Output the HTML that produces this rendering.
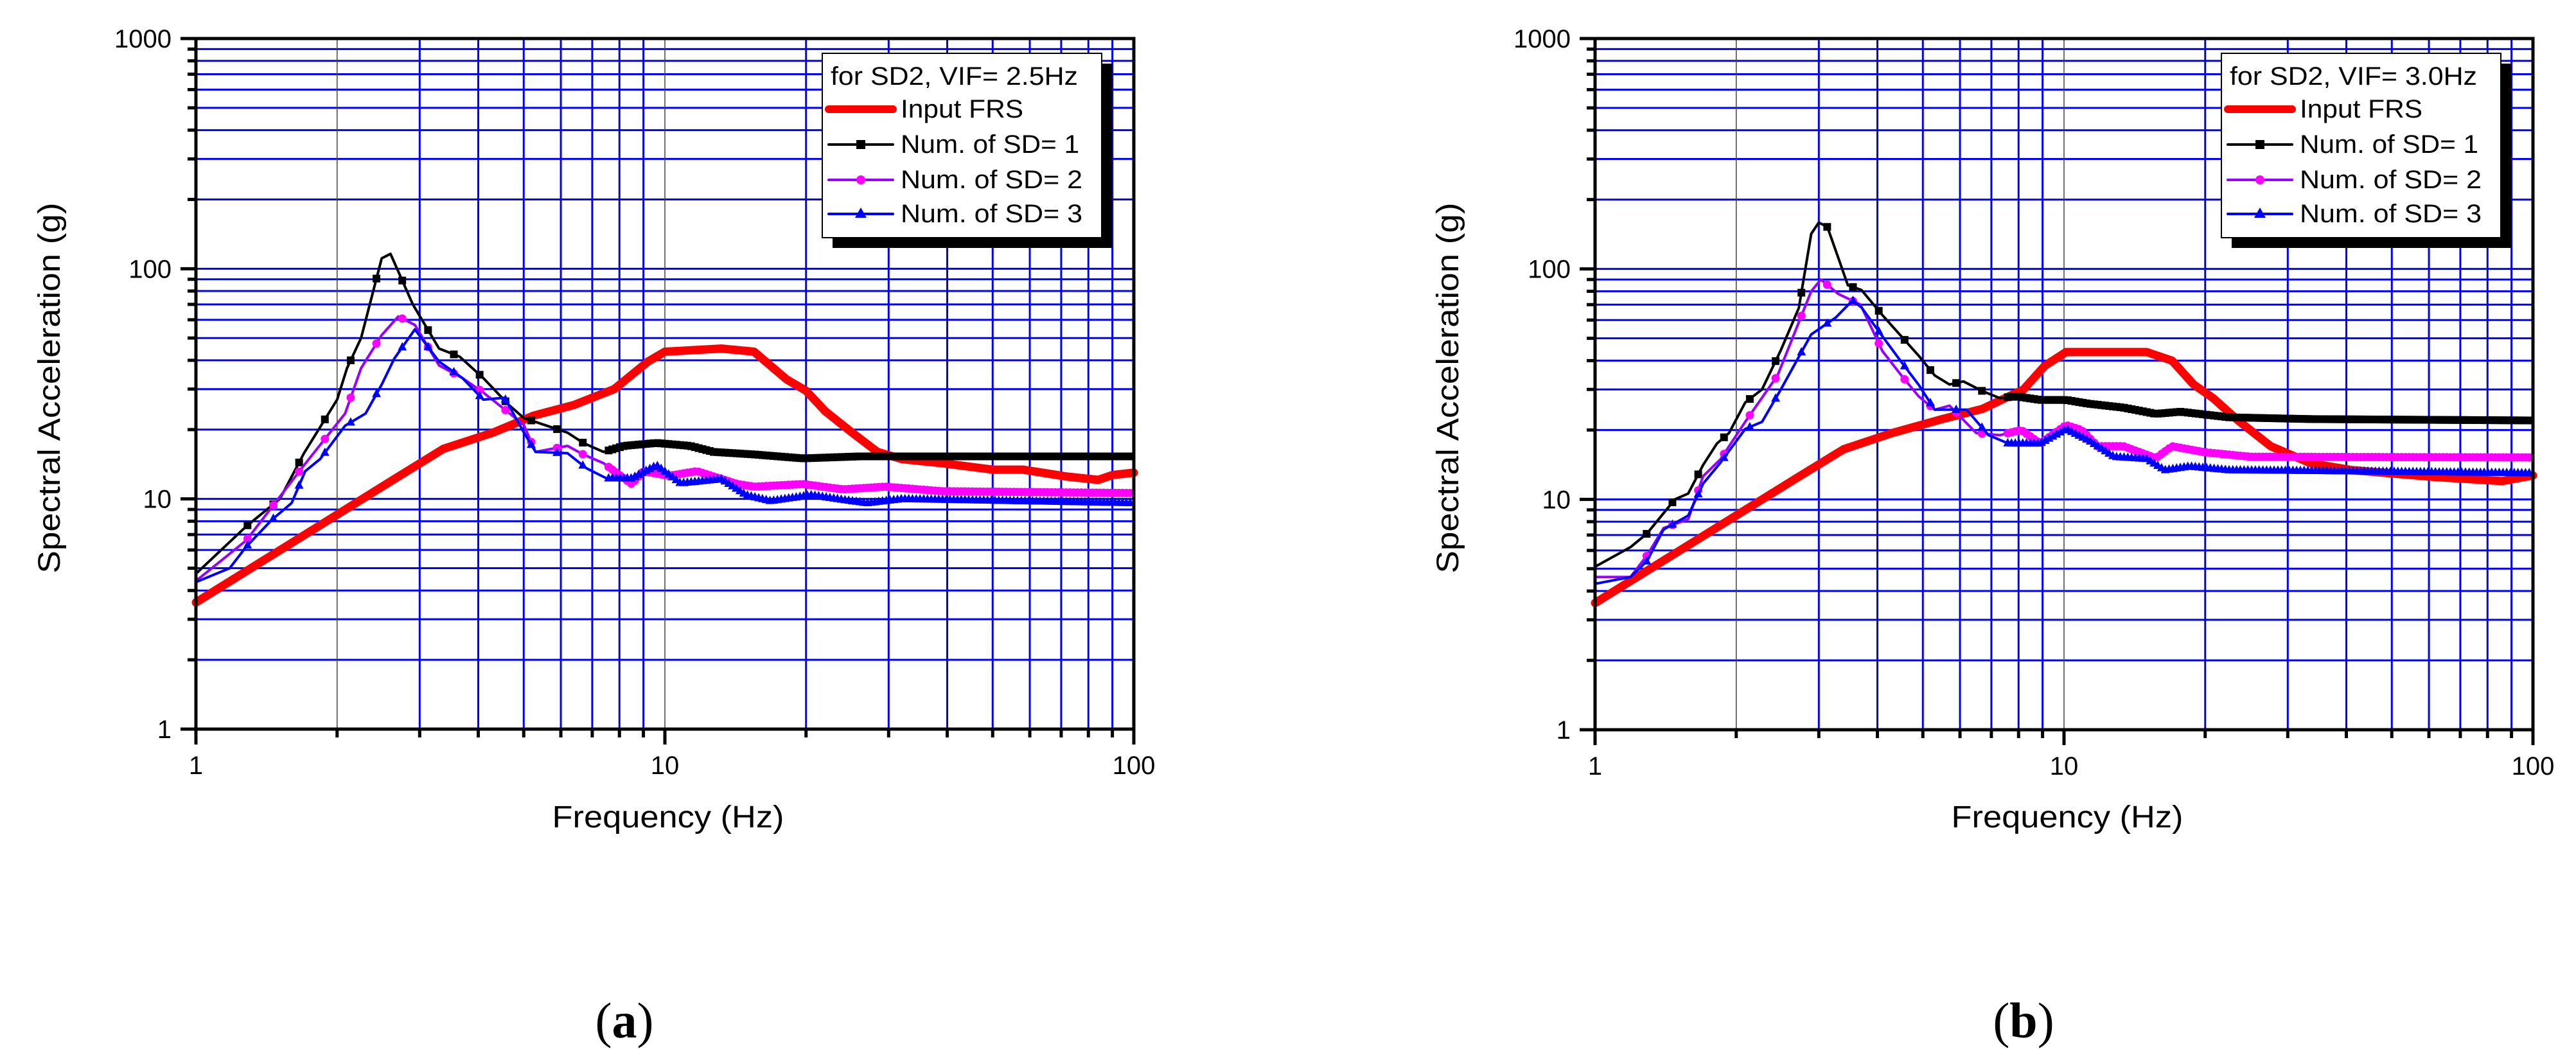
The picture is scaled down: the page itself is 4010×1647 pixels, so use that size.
<!DOCTYPE html>
<html><head><meta charset="utf-8"><style>
html,body{margin:0;padding:0;background:#fff;}
svg{display:block;font-family:"Liberation Sans Narrow","Liberation Sans",sans-serif;}
</style></head><body>
<svg id="fig" width="4010" height="1647" viewBox="0 0 4010 1647" xmlns="http://www.w3.org/2000/svg"></svg>
<script>
// Panel (a) data: [frequency Hz, spectral acceleration g]
const aInput=[[1,3.55],[2.65,12.2],[3.37,16.5],[4.3,19.4],[5.25,23],[6.4,25.6],[7.8,30],[9.2,39.5],[10,43.6],[13.2,45],[15.5,43.6],[18.2,33],[20,29.5],[22,24],[25,19.5],[28.4,16],[32,14.9],[39,14.3],[50,13.4],[58,13.4],[72,12.5],[84,12.1],[90,12.7],[100,13]];
const aSD1=[[1,4.73],[1.28,7.6],[1.51,10],[1.7,15.8],[2.0,27],[2.1,37],[2.25,50],[2.49,111],[2.6,116],[2.9,70],[3.3,45],[3.65,41.5],[4.1,33.5],[4.65,25.6],[5.0,22.5],[5.3,21.6],[6.2,19.4],[6.7,17.5],[7.4,16],[8.2,17],[9.6,17.5],[11.3,17],[12.7,16],[15.5,15.6],[19.7,15],[26,15.3],[100,15.3]];
const aSD2=[[1,4.4],[1.28,6.6],[1.7,14],[2.08,23.5],[2.25,37],[2.49,51.5],[2.7,62],[2.93,57],[3.3,38],[3.7,33.5],[4.1,29],[4.55,24.5],[5.0,21],[5.3,16],[6.2,17],[6.7,15.6],[7.4,14.3],[8.5,11.6],[9,13.2],[10.2,12.6],[11.7,13.2],[14.3,11.6],[15.5,11.3],[19.7,11.6],[24,11],[29.5,11.3],[39,10.8],[100,10.6]];
const aSD3=[[1,4.35],[1.18,5],[1.28,6.2],[1.45,8.1],[1.6,9.6],[1.71,13.2],[1.84,14.9],[2.08,20.8],[2.3,23.5],[2.49,31.4],[2.65,40.8],[2.93,54.5],[3.3,39.5],[3.7,33.5],[4.1,27],[4.55,27.5],[5,19.5],[5.3,16],[6.2,15.8],[6.8,13.6],[7.5,12.3],[8.5,12.3],[9.6,14],[10.8,11.7],[13.2,12.2],[14.9,10.4],[16.8,9.8],[20.5,10.4],[25,9.8],[27,9.6],[32,10],[100,9.6]];
// Panel (b) data
const bInput=[[1,3.55],[2.66,12.2],[3.39,16.5],[4.3,19.4],[5.5,22.3],[6.7,24.7],[8.2,30],[9.1,38],[10.1,43.6],[12.8,43.6],[15,43.6],[17,40],[18.9,31.5],[20.8,27.5],[23.5,22],[27.6,17],[33.7,14.3],[41,13.4],[62,12.5],[86,12],[100,12.7]];
const bSD1=[[1,5.1],[1.19,6.2],[1.29,7.1],[1.48,10],[1.58,10.6],[1.7,14.1],[1.82,17.5],[1.93,19.4],[2.09,26.3],[2.27,30],[2.49,44.4],[2.72,67.7],[2.89,142],[3.0,159],[3.13,152],[3.3,112],[3.46,85],[3.7,81],[4.1,63],[4.5,51],[4.9,42],[5.3,34.5],[5.7,31.5],[6.1,32.5],[6.7,29.5],[7.3,27.5],[7.9,28],[8.9,27],[10.1,27],[11.3,26],[13.4,25],[15.7,23.5],[17.7,24],[22.5,22.7],[33.7,22.3],[100,22]];
const bSD2=[[1,4.6],[1.19,4.6],[1.29,5.7],[1.4,7.5],[1.58,8.2],[1.7,12.6],[1.85,14.9],[2.09,21.7],[2.45,34.5],[2.89,80],[3.03,90],[3.3,78],[3.68,70],[4.1,44],[4.5,34.5],[4.9,28],[5.3,24.5],[5.7,25.5],[6.5,19.4],[7.3,19],[8.1,20],[8.9,17.5],[10.1,21],[10.9,20],[11.8,17],[13.4,17],[15.7,15.1],[17,17],[20,16],[25,15.3],[100,15.2]];
const bSD3=[[1,4.3],[1.19,4.6],[1.29,5.4],[1.4,7.4],[1.58,8.5],[1.7,11.7],[1.85,14.4],[2.09,20.2],[2.27,21.7],[2.49,30],[2.89,52],[3.26,61.5],[3.54,73],[3.7,68],[4.1,51],[4.5,39.5],[4.9,31.4],[5.3,24.5],[6.2,24.5],[6.9,19],[7.6,17.5],[8.9,17.5],[10.1,20.2],[11.3,18],[12.8,15.3],[15,15],[16.4,13.4],[18.5,13.9],[22.5,13.4],[33.7,13.3],[100,13]];
const xTicks=["1","10","100"];
const yTicks=["1","10","100","1000"];
const legendTitles=["for SD2, VIF= 2.5Hz","for SD2, VIF= 3.0Hz"];
const seriesNames=["Input FRS","Num. of SD= 1","Num. of SD= 2","Num. of SD= 3"];
const panelLabels=["a","b"];

const NS="http://www.w3.org/2000/svg";
const svg=document.getElementById('fig');
function mk(tag,attrs,parent){const e=document.createElementNS(NS,tag);for(const k in attrs)e.setAttribute(k,attrs[k]);(parent||svg).appendChild(e);return e;}

const panels=[
 {L:305,T:60,W:1460,H:1075,ylx:76,yll:2,data:[aInput,aSD1,aSD2,aSD3]},
 {L:2483,T:60,W:1460,H:1076,ylx:2253,yll:2,data:[bInput,bSD1,bSD2,bSD3]}
];

function interp(d,lf){
  for(let i=0;i<d.length-1;i++){
    const a=Math.log10(d[i][0]),b=Math.log10(d[i+1][0]);
    if(lf>=a&&lf<=b){const t=(lf-a)/(b-a||1);return Math.log10(d[i][1])+t*(Math.log10(d[i+1][1])-Math.log10(d[i][1]));}
  }
  return Math.log10(d[d.length-1][1]);
}

panels.forEach((p,pi)=>{
  const X=f=>p.L+p.W/2*Math.log10(f);
  const Y=v=>p.T+p.H/3*(3-Math.log10(v));
  const g=mk('g',{});
  
  
  // grid
  const grid=mk('g',{},g);
  
  
  for(let d=0;d<3;d++)for(let m=1;m<=9;m++){
    if(d===0&&m===1)continue;
    const v=m*Math.pow(10,d);const y=Y(v);
    mk('line',{x1:p.L,x2:p.L+p.W,y1:y,y2:y,stroke:'#0000ff','stroke-width':3},grid);
  }
  for(let d=0;d<2;d++)for(let m=1;m<=9;m++){
    if(d===0&&m===1)continue;
    const f=m*Math.pow(10,d);const x=X(f);
    const gray=(f===2||f===10);
    mk('line',{x1:x,x2:x,y1:p.T,y2:p.T+p.H,stroke:gray?'#444':'#0000ff','stroke-width':gray?1.5:3},grid);
  }
  // series
  const styles=[
    {line:'#ff0000',w:13,mark:null},
    {line:'#000000',w:4,mark:'sq',mc:'#000'},
    {line:'#9900ff',w:4,mark:'ci',mc:'#ff00ff'},
    {line:'#0000ff',w:4,mark:'tr',mc:'#0000ff'}
  ];
  [0,1,2,3].forEach(si=>{
    const d=p.data[si],s=styles[si];
    const sg=mk('g',{},g);
    
    
    const pts=d.map(q=>X(q[0]).toFixed(1)+','+Y(q[1]).toFixed(1)).join(' ');
    mk('polyline',{points:pts,fill:'none',stroke:s.line,'stroke-width':s.w,'stroke-linejoin':'round','stroke-linecap':'round'},sg);
    if(s.mark){
      let lf=0.11;
      while(lf<=2){
        const x=p.L+p.W/2*lf,y=p.T+p.H/3*(3-interp(d,lf));
        if(s.mark==='sq')mk('rect',{x:x-6,y:y-6,width:12,height:12,fill:s.mc},sg);
        else if(s.mark==='ci')mk('circle',{cx:x,cy:y,r:6.5,fill:s.mc},sg);
        else mk('polygon',{points:`${x},${y-8} ${x-7},${y+5} ${x+7},${y+5}`,fill:s.mc},sg);
        lf+= lf<0.85?0.055:0.008;
      }
    }
  });
  // frame
  const fr=mk('rect',{x:p.L,y:p.T,width:p.W,height:p.H,fill:'none',stroke:'#000','stroke-width':5},g);
  
  
  // y ticks
  for(let d=0;d<=3;d++){
    const y=Y(Math.pow(10,d));
    mk('line',{x1:p.L-24,x2:p.L,y1:y,y2:y,stroke:'#000','stroke-width':5},g);
    const t=mk('text',{x:p.L-38,y:y+14,'font-size':40,'text-anchor':'end'},g);
    t.textContent=yTicks[d];
    
    
    if(d<3)for(let m=2;m<=9;m++){const yy=Y(m*Math.pow(10,d));mk('line',{x1:p.L-13,x2:p.L,y1:yy,y2:yy,stroke:'#000','stroke-width':5},g);}
  }
  for(let d=0;d<=2;d++){
    const x=X(Math.pow(10,d));
    mk('line',{x1:x,x2:x,y1:p.T+p.H,y2:p.T+p.H+24,stroke:'#000','stroke-width':5},g);
    const t=mk('text',{x:x,y:p.T+p.H+70,'font-size':40,'text-anchor':'middle'},g);
    t.textContent=xTicks[d];
    
    
    if(d<2)for(let m=2;m<=9;m++){const xx=X(m*Math.pow(10,d));mk('line',{x1:xx,x2:xx,y1:p.T+p.H,y2:p.T+p.H+13,stroke:'#000','stroke-width':5},g);}
  }
  // axis titles
  const xt=mk('text',{x:p.L+p.W/2+5,y:1288,'font-size':48,'text-anchor':'middle',textLength:361,lengthAdjust:'spacingAndGlyphs'},g);
  xt.textContent='Frequency (Hz)';
  
  
  const cy=604;
  const yt=mk('text',{x:0,y:0,'font-size':48,'text-anchor':'middle',textLength:577,lengthAdjust:'spacingAndGlyphs',transform:`translate(${p.ylx+17},${cy}) rotate(-90)`},g);
  yt.textContent='Spectral Acceleration (g)';
  
  
  // legend
  const lx=p.L+975,ly=83;
  const lg=mk('g',{},g);
  
  
  mk('rect',{x:lx+16,y:ly+16,width:435,height:287,fill:'#000'},lg);
  mk('rect',{x:lx,y:ly,width:435,height:287,fill:'#fff',stroke:'#000','stroke-width':2},lg);
  const tt=mk('text',{x:lx+13,y:ly+49,'font-size':40,textLength:385,lengthAdjust:'spacingAndGlyphs'},lg);
  tt.textContent=legendTitles[pi];
  
  
  const rows=[100,155,210,263];
  const tl=[191,278,283,283];
  seriesNames.forEach((n,i)=>{
    const yy=ly+rows[i]-13, s=styles[i];
    const e=mk('g',{},lg);
    
    
    mk('line',{x1:lx+10,x2:lx+110,y1:yy,y2:yy,stroke:s.line,'stroke-width':i===0?12:4,'stroke-linecap':'round'},e);
    const cx=lx+60;
    if(s.mark==='sq')mk('rect',{x:cx-7,y:yy-7,width:14,height:14,fill:s.mc},e);
    if(s.mark==='ci')mk('circle',{cx:cx,cy:yy,r:7,fill:s.mc},e);
    if(s.mark==='tr')mk('polygon',{points:`${cx},${yy-10} ${cx-9},${yy+6} ${cx+9},${yy+6}`,fill:s.mc},e);
    const t=mk('text',{x:lx+122,y:ly+rows[i],'font-size':40,textLength:tl[i],lengthAdjust:'spacingAndGlyphs'},e);
    t.textContent=n;
  });
  // panel label
  const pl=mk('text',{x:p.L+p.W/2-63,y:1615,'font-size':78,'text-anchor':'middle','font-family':'Liberation Serif, serif'},g);
  
  
  pl.innerHTML='(<tspan font-weight="bold">'+panelLabels[pi]+'</tspan>)';
});
</script>
</body></html>
